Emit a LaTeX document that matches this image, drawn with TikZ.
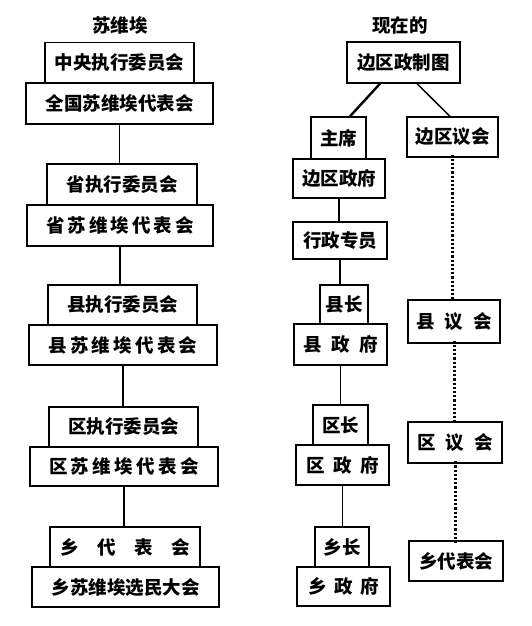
\documentclass[tikz,border=0pt]{standalone}
\usepackage{fontspec}
\setmainfont{Noto Sans CJK SC}
\usetikzlibrary{calc}
\tikzset{org/.style = {draw, line width=1.3pt, inner sep=0, minimum height=40pt, font=\fontsize{18.5}{22}\selectfont\bfseries}}
\tikzset{low/.style = {org, line width=1.6pt}}
\tikzset{link/.style = {line width=1.5pt}}
\tikzset{dots/.style = {line width=3pt, dash pattern=on 2.2pt off 2pt}}
\newcommand{\spreadto}[2]{\makebox[#1pt][s]{#2}}
\begin{document}
\begin{tikzpicture}[x=1pt,y=-1pt]
\useasboundingbox (0,0) rectangle (531,626);
\node[font=\fontsize{18.5}{22}\selectfont\bfseries] (sw) at (120,25) {苏维埃};
\node[font=\fontsize{18.5}{22}\selectfont\bfseries] (xz) at (400,25) {现在的};
\node[org, minimum width=149] (zy) at (119.5,62.5) {中央执行委员会};
\node[low, minimum width=187, minimum height=41] (qg) at (119.5,103.5) {全国苏维埃代表会};
\node[org, minimum width=150, minimum height=41] (sz) at (122,184.5) {省执行委员会};
\node[low, minimum width=186, minimum height=41] (sd) at (120,225.5) {\spreadto{148}{省 苏 维 埃 代 表 会}};
\node[org, minimum width=149] (xzh) at (122.5,305) {县执行委员会};
\node[low, minimum width=188] (xd) at (123,345) {\spreadto{149}{县 苏 维 埃 代 表 会}};
\node[org, minimum width=149] (qz) at (123.5,427) {区执行委员会};
\node[low, minimum width=188, minimum height=39] (qd) at (124,466.5) {\spreadto{150}{区 苏 维 埃 代 表 会}};
\node[org, minimum width=150] (xiangd) at (125,547) {\spreadto{130}{乡 代 表 会}};
\node[low, minimum width=187] (xm) at (125.5,587) {乡苏维埃选民大会};
\draw[link] (qg.south) -- (qg.south |- sz.north);
\draw[link] (sd.south) -- (sd.south |- xzh.north);
\draw[link] (xd.south) -- (xd.south |- qz.north);
\draw[link] (qd.south) -- (qd.south |- xiangd.north);
\node[org, minimum width=113, minimum height=41] (bz) at (403.5,62.5) {边区政制图};
\node[org, minimum width=55, minimum height=42] (zx) at (338.5,138) {主席};
\node[low, minimum width=92, minimum height=39] (bf) at (339,178.5) {边区政府};
\node[low, minimum width=94, minimum height=37] (zyy) at (340,240.5) {行政专员};
\node[org, minimum width=48, minimum height=39] (xc) at (344,304.5) {县长};
\node[low, minimum width=93, minimum height=41] (xf) at (340.5,344.5) {\spreadto{74}{县 政 府}};
\node[org, minimum width=55] (qc) at (340.5,425) {区长};
\node[low, minimum width=93] (qf) at (342.5,465) {\spreadto{73}{区 政 府}};
\node[org, minimum width=54] (xiangc) at (342,547) {乡长};
\node[low, minimum width=93, minimum height=39] (xiangf) at (343.5,586.5) {\spreadto{71}{乡 政 府}};
\node[org, minimum width=91] (by) at (452.5,137) {边区议会};
\node[org, minimum width=92, minimum height=43] (xy) at (454,321.5) {\spreadto{75}{县 议 会}};
\node[low, line width=2.2pt, minimum width=94, minimum height=41] (qy) at (455,442.5) {\spreadto{76}{区 议 会}};
\node[org, minimum width=94] (xiangy) at (456,561) {乡代表会};
\draw[line width=2.4pt] ([xshift=-23.5pt]bz.south) -- ([xshift=11.5pt]zx.north);
\draw[link] ([xshift=13.5pt]bz.south) -- ([xshift=-2.5pt]by.north);
\draw[link] (bf.south) -- (bf.south |- zyy.north);
\draw[link] (zyy.south) -- (zyy.south |- xc.north);
\draw[link] (xf.south) -- (xf.south |- qc.north);
\draw[link] (qf.south) -- (qf.south |- xiangc.north);
\draw[dots] ([yshift=3pt]by.south) -- ([yshift=-2pt]by.south |- xy.north);
\draw[dots] ([yshift=3pt]xy.south) -- ([yshift=-3pt]xy.south |- qy.north);
\draw[dots] ([yshift=3pt]qy.south) -- ([yshift=-3pt]qy.south |- xiangy.north);
\end{tikzpicture}
\end{document}
